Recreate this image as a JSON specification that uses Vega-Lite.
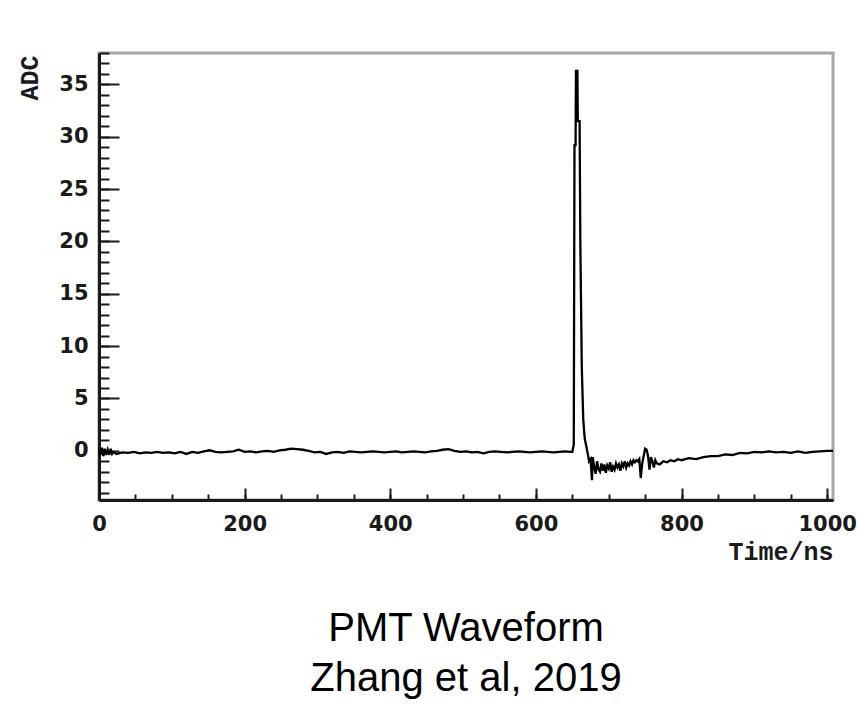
{
  "$schema": "https://vega.github.io/schema/vega-lite/v6.json",
  "autosize": "none",
  "width": 734,
  "height": 447,
  "padding": {"left": 99, "top": 53, "right": 25, "bottom": 214},
  "background": "white",
  "config": {
    "view": {"stroke": "#a6a6a6", "strokeWidth": 3},
    "axis": {"grid": false}
  },
  "title": {
    "text": ["PMT Waveform", "Zhang et al, 2019"],
    "orient": "bottom",
    "anchor": "middle",
    "font": "Liberation Sans",
    "fontSize": 40,
    "fontWeight": "normal",
    "color": "#000000",
    "lineHeight": 50,
    "offset": 45
  },
  "data": {
    "values": [
      {"t": 0, "adc": 0.2}, {"t": 2, "adc": -0.4}, {"t": 4, "adc": 0.3}, {"t": 6, "adc": -0.5},
      {"t": 8, "adc": 0.2}, {"t": 10, "adc": -0.4}, {"t": 12, "adc": 0.1}, {"t": 14, "adc": -0.4},
      {"t": 16, "adc": 0.2}, {"t": 18, "adc": -0.3}, {"t": 20, "adc": -0.1}, {"t": 24, "adc": -0.3},
      {"t": 32, "adc": -0.15}, {"t": 40, "adc": -0.2}, {"t": 48, "adc": -0.1}, {"t": 56, "adc": -0.25},
      {"t": 64, "adc": -0.15}, {"t": 72, "adc": -0.2}, {"t": 80, "adc": -0.1}, {"t": 88, "adc": -0.2},
      {"t": 96, "adc": -0.15}, {"t": 104, "adc": -0.25}, {"t": 112, "adc": -0.1}, {"t": 120, "adc": -0.3},
      {"t": 128, "adc": -0.1}, {"t": 136, "adc": -0.2}, {"t": 144, "adc": -0.05}, {"t": 152, "adc": 0.05},
      {"t": 160, "adc": -0.1}, {"t": 168, "adc": -0.15}, {"t": 176, "adc": -0.1}, {"t": 184, "adc": -0.05},
      {"t": 192, "adc": 0.1}, {"t": 200, "adc": -0.1}, {"t": 208, "adc": -0.05}, {"t": 216, "adc": -0.15},
      {"t": 224, "adc": -0.05}, {"t": 232, "adc": 0.0}, {"t": 240, "adc": -0.1}, {"t": 248, "adc": 0.05},
      {"t": 256, "adc": 0.1}, {"t": 264, "adc": 0.2}, {"t": 272, "adc": 0.15}, {"t": 280, "adc": 0.1},
      {"t": 288, "adc": 0.0}, {"t": 296, "adc": -0.15}, {"t": 304, "adc": -0.1}, {"t": 312, "adc": -0.3},
      {"t": 320, "adc": -0.15}, {"t": 328, "adc": -0.1}, {"t": 336, "adc": -0.2}, {"t": 344, "adc": -0.05},
      {"t": 352, "adc": -0.1}, {"t": 360, "adc": -0.15}, {"t": 368, "adc": -0.1}, {"t": 376, "adc": -0.05},
      {"t": 384, "adc": -0.1}, {"t": 392, "adc": -0.15}, {"t": 400, "adc": -0.1}, {"t": 408, "adc": -0.05},
      {"t": 416, "adc": -0.15}, {"t": 424, "adc": -0.1}, {"t": 432, "adc": -0.05}, {"t": 440, "adc": -0.1},
      {"t": 448, "adc": -0.15}, {"t": 456, "adc": -0.05}, {"t": 464, "adc": 0.0}, {"t": 472, "adc": 0.1},
      {"t": 480, "adc": 0.15}, {"t": 488, "adc": 0.0}, {"t": 496, "adc": -0.1}, {"t": 504, "adc": -0.05},
      {"t": 512, "adc": -0.15}, {"t": 520, "adc": -0.1}, {"t": 528, "adc": -0.25}, {"t": 536, "adc": -0.1},
      {"t": 544, "adc": -0.05}, {"t": 552, "adc": -0.1}, {"t": 560, "adc": -0.15}, {"t": 568, "adc": -0.1},
      {"t": 576, "adc": -0.05}, {"t": 584, "adc": -0.1}, {"t": 592, "adc": -0.15}, {"t": 600, "adc": -0.1},
      {"t": 608, "adc": -0.05}, {"t": 616, "adc": -0.1}, {"t": 624, "adc": -0.15}, {"t": 632, "adc": -0.1},
      {"t": 640, "adc": -0.05}, {"t": 648, "adc": -0.1}, {"t": 650, "adc": -0.1}, {"t": 652, "adc": 0.6},
      {"t": 653, "adc": 29.2}, {"t": 654.5, "adc": 29.2}, {"t": 655, "adc": 36.3}, {"t": 657, "adc": 36.3},
      {"t": 657.5, "adc": 31.5}, {"t": 660, "adc": 31.5}, {"t": 661, "adc": 20}, {"t": 663, "adc": 8},
      {"t": 665, "adc": 3}, {"t": 667, "adc": 1.2}, {"t": 669, "adc": 0.5}, {"t": 671, "adc": -0.2},
      {"t": 673, "adc": -1.0}, {"t": 675, "adc": -0.8}, {"t": 677, "adc": -2.8}, {"t": 678, "adc": -0.6},
      {"t": 680, "adc": -1.5}, {"t": 682, "adc": -2.2}, {"t": 684, "adc": -1.0}, {"t": 686, "adc": -1.8},
      {"t": 688, "adc": -2.0}, {"t": 690, "adc": -1.2}, {"t": 692, "adc": -1.9}, {"t": 694, "adc": -1.3},
      {"t": 696, "adc": -2.1}, {"t": 698, "adc": -1.4}, {"t": 700, "adc": -1.7}, {"t": 702, "adc": -1.1},
      {"t": 704, "adc": -2.0}, {"t": 706, "adc": -1.5}, {"t": 708, "adc": -1.8}, {"t": 710, "adc": -1.2},
      {"t": 712, "adc": -1.6}, {"t": 714, "adc": -1.3}, {"t": 716, "adc": -1.9}, {"t": 718, "adc": -1.2},
      {"t": 720, "adc": -1.5}, {"t": 722, "adc": -1.0}, {"t": 724, "adc": -1.6}, {"t": 726, "adc": -1.2},
      {"t": 728, "adc": -1.4}, {"t": 730, "adc": -1.0}, {"t": 732, "adc": -1.3}, {"t": 734, "adc": -0.9},
      {"t": 736, "adc": -1.1}, {"t": 738, "adc": -0.9}, {"t": 740, "adc": -1.0}, {"t": 742, "adc": -0.8},
      {"t": 744, "adc": -2.6}, {"t": 746, "adc": -1.2}, {"t": 748, "adc": -0.5}, {"t": 750, "adc": 0.2},
      {"t": 752, "adc": 0.1}, {"t": 754, "adc": -0.5}, {"t": 756, "adc": -1.8}, {"t": 758, "adc": -0.6},
      {"t": 760, "adc": -1.0}, {"t": 762, "adc": -1.6}, {"t": 764, "adc": -0.9}, {"t": 766, "adc": -1.2},
      {"t": 770, "adc": -1.3}, {"t": 775, "adc": -1.0}, {"t": 780, "adc": -1.1}, {"t": 785, "adc": -0.9},
      {"t": 790, "adc": -1.0}, {"t": 795, "adc": -0.8}, {"t": 800, "adc": -0.9}, {"t": 810, "adc": -0.7},
      {"t": 820, "adc": -0.8}, {"t": 830, "adc": -0.6}, {"t": 840, "adc": -0.5}, {"t": 850, "adc": -0.5},
      {"t": 860, "adc": -0.35}, {"t": 870, "adc": -0.4}, {"t": 880, "adc": -0.2}, {"t": 890, "adc": -0.25},
      {"t": 900, "adc": -0.1}, {"t": 910, "adc": -0.15}, {"t": 920, "adc": -0.05}, {"t": 930, "adc": -0.15},
      {"t": 940, "adc": -0.1}, {"t": 950, "adc": -0.2}, {"t": 960, "adc": -0.05}, {"t": 970, "adc": -0.2},
      {"t": 980, "adc": -0.1}, {"t": 990, "adc": -0.05}, {"t": 1000, "adc": 0.0}, {"t": 1008, "adc": 0.0}
    ]
  },
  "resolve": {"axis": {"x": "independent", "y": "independent"}},
  "layer": [
    {
      "mark": {"type": "line", "opacity": 0},
      "encoding": {
        "x": {
          "field": "t", "type": "quantitative",
          "scale": {"domain": [0, 1008], "nice": false, "zero": false},
          "axis": {
            "orient": "bottom", "values": [0, 50, 100, 150, 200, 250, 300, 350, 400, 450, 500, 550, 600, 650, 700, 750, 800, 850, 900, 950, 1000],
            "labels": false, "domain": false, "title": null,
            "tickSize": -6, "tickWidth": 2, "tickColor": "#1a1a1a"
          }
        },
        "y": {
          "field": "adc", "type": "quantitative",
          "scale": {"domain": [-4.7, 38], "nice": false, "zero": false},
          "axis": {
            "orient": "left", "values": [-4, -3, -2, -1, 0, 1, 2, 3, 4, 5, 6, 7, 8, 9, 10, 11, 12, 13, 14, 15, 16, 17, 18, 19, 20, 21, 22, 23, 24, 25, 26, 27, 28, 29, 30, 31, 32, 33, 34, 35, 36, 37, 38],
            "labels": false, "domain": false, "title": null,
            "tickSize": -10, "tickWidth": 2, "tickColor": "#1a1a1a"
          }
        }
      }
    },
    {
      "mark": {"type": "line", "color": "#000000", "strokeWidth": 2.3, "interpolate": "linear"},
      "encoding": {
        "x": {
          "field": "t", "type": "quantitative",
          "scale": {"domain": [0, 1008], "nice": false, "zero": false},
          "axis": {
            "orient": "bottom", "values": [0, 200, 400, 600, 800, 1000],
            "format": "d",
            "domain": true, "domainColor": "#1a1a1a", "domainWidth": 3,
            "tickSize": -12, "tickWidth": 2, "tickColor": "#1a1a1a",
            "labelPadding": 25, "labelFont": "DejaVu Sans", "labelFontSize": 21, "labelFontWeight": "bold",
            "labelColor": "#1a1a1a", "labelFlush": false, "labelOverlap": false,
            "title": "Time/ns", "titleFont": "Liberation Mono", "titleFontSize": 25, "titleFontWeight": "bold",
            "titleColor": "#1a1a1a", "titleAnchor": "end", "titleAlign": "right", "titleBaseline": "alphabetic",
            "titleX": 734, "titleY": 59
          }
        },
        "y": {
          "field": "adc", "type": "quantitative",
          "scale": {"domain": [-4.7, 38], "nice": false, "zero": false},
          "axis": {
            "orient": "left", "values": [0, 5, 10, 15, 20, 25, 30, 35],
            "domain": true, "domainColor": "#1a1a1a", "domainWidth": 3,
            "tickSize": -20, "tickWidth": 2, "tickColor": "#1a1a1a",
            "labelPadding": 31, "labelFont": "DejaVu Sans", "labelFontSize": 21, "labelFontWeight": "bold",
            "labelColor": "#1a1a1a", "labelOverlap": false, "labelFlush": false,
            "title": "ADC", "titleFont": "Liberation Mono", "titleFontSize": 25, "titleFontWeight": "bold",
            "titleColor": "#1a1a1a", "titleAngle": -90, "titleAlign": "right", "titleBaseline": "middle",
            "titleX": -70, "titleY": 2
          }
        }
      }
    }
  ]
}
